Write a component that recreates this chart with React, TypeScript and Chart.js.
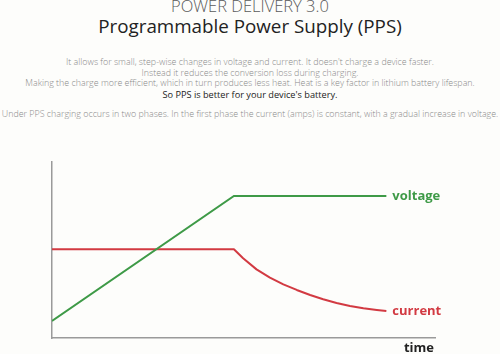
import React, { useEffect, useRef } from "react";
import { Chart, registerables } from "chart.js";

Chart.register(...registerables);

const voltageX = [0, 47.5, 87.3];
const voltageY = [9.7, 80.7, 80.7];
const currentX = [0, 47.5, 49.9, 53.4, 56.9, 60.4, 63.9, 67.4, 70.8, 74.3, 77.8, 81.3, 84.8, 87.3];
const currentY = [50.4, 50.4, 45.3, 39.0, 34.3, 30.5, 27.3, 24.4, 22.0, 19.9, 18.2, 16.9, 15.9, 15.3];
const seriesNames = ["voltage", "current"];
const axisTitle = "time";

const GREEN = "#3e9a47";
const RED = "#d23a42";

const labelPlugin = {
  id: "endLabels",
  afterDatasetsDraw(chart: any) {
    const ctx = chart.ctx;
    ctx.save();
    ctx.font = "bold 13px 'Open Sans', sans-serif";
    ctx.textBaseline = "middle";
    ctx.textAlign = "left";
    chart.data.datasets.forEach((ds: any, i: number) => {
      const meta = chart.getDatasetMeta(i);
      const last = meta.data[meta.data.length - 1];
      ctx.fillStyle = ds.borderColor;
      ctx.fillText(ds.label, last.x + 6, last.y);
    });
    const area = chart.chartArea;
    ctx.fillStyle = "#222";
    ctx.textAlign = "right";
    ctx.fillText(axisTitle, area.right - 1, area.bottom + 10);
    ctx.restore();
  },
};

export default function App() {
  const ref = useRef<HTMLCanvasElement>(null);
  useEffect(() => {
    document.body.style.margin = "0";
    const chart = new Chart(ref.current!, {
      type: "line",
      data: {
        datasets: [
          {
            label: seriesNames[0],
            data: voltageX.map((x, i) => ({ x, y: voltageY[i] })),
            borderColor: GREEN,
            borderWidth: 2,
            pointRadius: 0,
            tension: 0,
          },
          {
            label: seriesNames[1],
            data: currentX.map((x, i) => ({ x, y: currentY[i] })),
            borderColor: RED,
            borderWidth: 2,
            pointRadius: 0,
            tension: 0,
            borderJoinStyle: "round",
          },
        ],
      },
      options: {
        animation: false,
        responsive: false,
        maintainAspectRatio: false,
        layout: { padding: { left: 52, right: 65, top: 12, bottom: 16 } },
        plugins: { legend: { display: false }, tooltip: { enabled: false } },
        scales: {
          x: {
            type: "linear",
            min: 0,
            max: 100,
            grid: { display: false, drawTicks: false },
            ticks: { display: false },
            border: { display: true, color: "#9a9a9a", width: 1.5 },
          },
          y: {
            type: "linear",
            min: 0,
            max: 100,
            grid: { display: false, drawTicks: false },
            ticks: { display: false },
            border: { display: true, color: "#9a9a9a", width: 1.5 },
          },
        },
      },
      plugins: [labelPlugin],
    });
    return () => chart.destroy();
  }, []);

  const line = (top: number, text: string, style: React.CSSProperties) => (
    <div
      style={{
        position: "absolute",
        left: 0,
        width: 500,
        top,
        textAlign: "center",
        whiteSpace: "nowrap",
        lineHeight: 1,
        ...style,
      }}
    >
      {text}
    </div>
  );

  const small: React.CSSProperties = {
    fontFamily: "'Open Sans', sans-serif",
    fontWeight: 300,
    fontSize: 8.9,
    color: "#8a8a8a",
  };

  return (
    <div
      style={{
        position: "fixed",
        left: 0,
        top: 0,
        width: 500,
        height: 354,
        background: "#fdfdfb",
        overflow: "hidden",
      }}
    >
      {line(-2, "POWER DELIVERY 3.0", {
        fontFamily: "'Open Sans', sans-serif",
        fontWeight: 300,
        fontSize: 16.5,
        color: "#5a5a5a",
      })}
      {line(17, "Programmable Power Supply (PPS)", {
        fontFamily: "'Open Sans', sans-serif",
        fontWeight: 400,
        fontSize: 18.8,
        color: "#222",
      })}
      {line(58, "It allows for small, step-wise changes in voltage and current. It doesn't charge a device faster.", small)}
      {line(68.5, "Instead it reduces the conversion loss during charging.", small)}
      {line(79, "Making the charge more efficient, which in turn produces less heat. Heat is a key factor in lithium battery lifespan.", small)}
      {line(90, "So PPS is better for your device's battery.", { ...small, fontWeight: 400, color: "#222", fontSize: 9.2 })}
      {line(109.5, "Under PPS charging occurs in two phases. In the first phase the current (amps) is constant, with a gradual increase in voltage.", small)}
      <canvas
        ref={ref}
        width={500}
        height={204}
        style={{ position: "absolute", left: 0, top: 150, width: 500, height: 204 }}
      />
    </div>
  );
}
